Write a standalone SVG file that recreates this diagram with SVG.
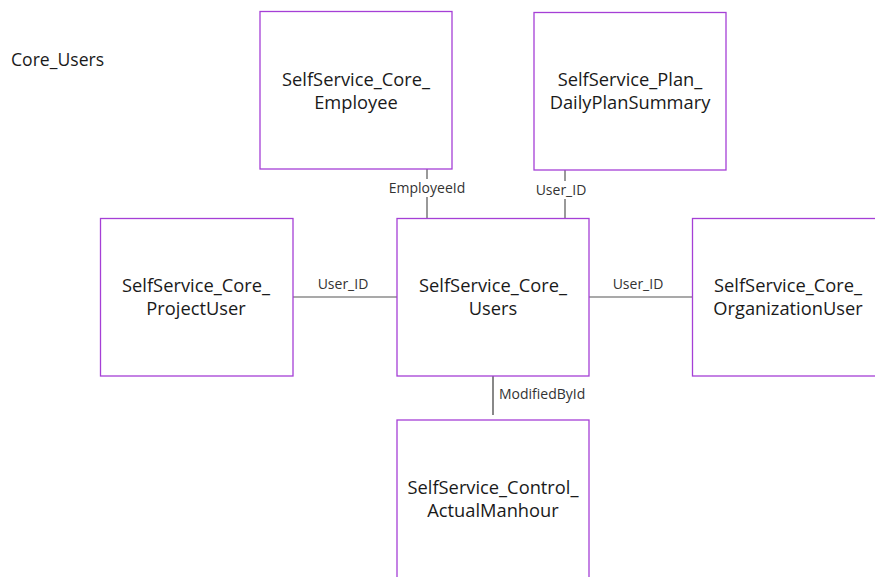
<svg xmlns="http://www.w3.org/2000/svg" width="875" height="577" viewBox="0 0 875 577">
<style>
.box{fill:#fff;stroke:#a53fd6;stroke-width:1.3}
.t{font-family:"Open Sans","Liberation Sans",sans-serif;font-size:18.3px;fill:#1a1a1a;text-anchor:middle}
.l{font-family:"Open Sans","Liberation Sans",sans-serif;font-size:14px;fill:#333}
.c{stroke:#555;stroke-width:1.2;fill:none}
</style>
<rect width="875" height="577" fill="#fff"/>
<text x="11" y="66" class="l" style="font-size:17.6px;fill:#1a1a1a">Core_Users</text>
<g id="connectors">
<line class="c" x1="427" y1="169" x2="427" y2="218"/>
<line class="c" x1="565" y1="170" x2="565" y2="218"/>
<line class="c" x1="293" y1="297" x2="397" y2="297"/>
<line class="c" x1="589" y1="297" x2="692" y2="297"/>
<line x1="493" y1="376" x2="493" y2="415" stroke="#888" stroke-width="2"/>
<rect x="387" y="179" width="80" height="18" fill="#fff"/>
<rect x="532" y="181" width="58" height="18" fill="#fff"/>
<text x="427" y="193" class="l" text-anchor="middle">EmployeeId</text>
<text x="561" y="195" class="l" text-anchor="middle">User_ID</text>
<text x="343" y="289" class="l" text-anchor="middle">User_ID</text>
<text x="638" y="289" class="l" text-anchor="middle">User_ID</text>
<text x="499" y="399" class="l">ModifiedById</text>
</g>
<g id="employee">
<rect class="box" x="260" y="11.5" width="192" height="157.5"/>
<text class="t" x="356" y="86">SelfService_Core_</text>
<text class="t" x="356" y="109">Employee</text>
</g>
<g id="dailyplan">
<rect class="box" x="534" y="12.5" width="192" height="157.5"/>
<text class="t" x="630" y="86">SelfService_Plan_</text>
<text class="t" x="630" y="109">DailyPlanSummary</text>
</g>
<g id="projectuser">
<rect class="box" x="100.5" y="218.5" width="192.5" height="157.5"/>
<text class="t" x="196" y="292">SelfService_Core_</text>
<text class="t" x="196" y="315">ProjectUser</text>
</g>
<g id="users">
<rect class="box" x="397" y="218.5" width="192" height="157.5"/>
<text class="t" x="493" y="292">SelfService_Core_</text>
<text class="t" x="493" y="315">Users</text>
</g>
<g id="orguser">
<rect class="box" x="692.5" y="218.5" width="200" height="157.5"/>
<text class="t" x="788" y="292">SelfService_Core_</text>
<text class="t" x="788" y="315">OrganizationUser</text>
</g>
<g id="actualmanhour">
<rect class="box" x="397" y="420" width="192" height="180"/>
<text class="t" x="493" y="494">SelfService_Control_</text>
<text class="t" x="493" y="517">ActualManhour</text>
</g>
</svg>
